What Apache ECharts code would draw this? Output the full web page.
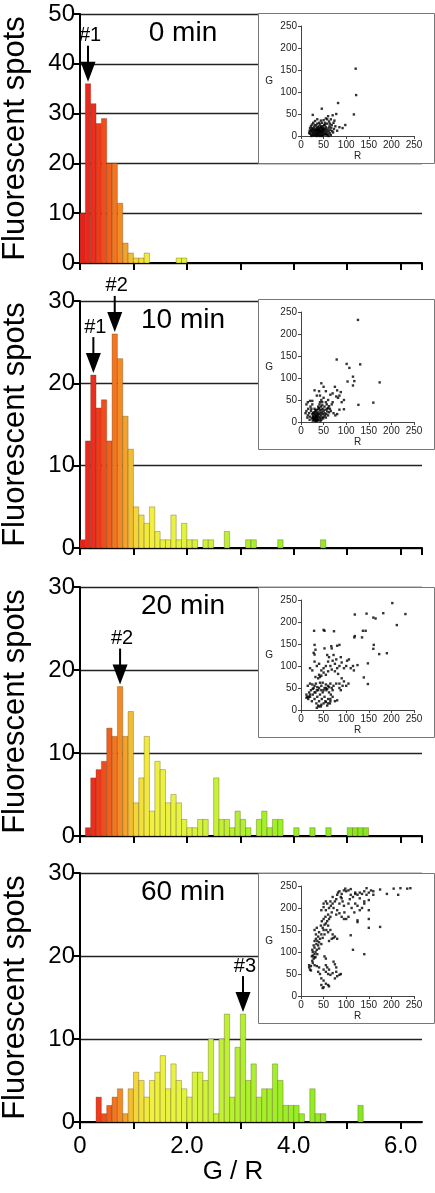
<!DOCTYPE html>
<html><head><meta charset="utf-8">
<script src="https://cdn.jsdelivr.net/npm/echarts/dist/echarts.min.js"></script>
<style>html,body{margin:0;padding:0;background:#fff}#c{width:435px;height:1193px}</style>
</head><body><div id="c"></div><script>
// ---------------- data ----------------
const binWidth = 0.1;                 // histogram bin width in G/R
const panelTitles = ['0 min', '10 min', '20 min', '60 min'];
const yMaxes = [50, 30, 30, 30];
const yAxisTitle = 'Fluorescent spots';
const xAxisTitle = 'G / R';
const xTickLabels = {0: '0', 2: '2.0', 4: '4.0', 6: '6.0'};

// counts per bin, bin i covers [i*0.1, (i+1)*0.1)
const counts0 = [10,36,32,28,29,20,20,12,4,2,1,1,2,0,0,0,0,0,1,1];
const counts10 = [1,13,21,17,18,13,26,23,16,12,5,4,3,5,2,1,1,4,1,3,1,1,0,1,1,0,0,2,0,0,0,1,1,0,0,0,0,1,0,0,0,0,0,0,0,1];
const counts20 = [0,1,7,8,9,13,12,18,12,15,4,7,12,3,9,8,4,5,4,2,1,1,2,2,0,7,2,2,1,3,2,1,0,2,3,1,2,2,0,0,1,0,0,1,0,0,1,0,0,0,1,1,1,1];
const counts60 = [0,0,0,3,1,2,3,4,1,4,6,5,3,5,6,8,4,7,5,4,3,6,6,5,10,1,10,13,3,9,13,5,7,3,4,4,7,5,2,2,2,1,0,4,1,1,0,0,0,0,0,0,2];

// peak markers: panel, bin start, bin count, label
const peakPanel = [0, 1, 1, 2, 3];
const peakBin = [0.1, 0.2, 0.6, 0.7, 3.0];
const peakCount = [36, 21, 26, 18, 13];
const peakLabel = ['#1', '#1', '#2', '#2', '#3'];

// inset scatter R,G values
const scatter0 = [[121,153],[122,93],[117,49],[82,75],[46,62],[26,48],[78,50],[98,25],[92,18],[70,47],[60,45],[55,40],[66,38],[72,30],[76,22],[68,25],[62,33],[80,12],[85,20],
[20,5],[21,10],[22,14],[23,3],[24,8],[25,12],[25,18],[26,2],[27,6],[28,10],[28,15],[29,20],[30,4],[30,8],[31,12],[32,1],[32,16],[33,6],[33,24],[34,10],[34,3],[35,14],[35,19],[36,7],[36,28],[37,2],[37,11],[38,16],[38,5],[39,9],[39,22],[40,13],[40,3],[41,18],[41,7],[42,11],[42,26],[43,1],[43,15],[44,8],[44,20],[45,4],[45,12],[46,17],[46,30],[47,9],[47,2],[48,14],[48,22],[49,6],[50,11],[50,18],[51,3],[52,15],[52,8],[53,25],[54,12],[55,5],[55,20],[56,16],[57,9],[58,28],[59,13],[60,4],[61,18],[62,10],[63,22],[64,6],[65,14],[66,2],[67,19],[69,11],[71,8],[73,16],[74,35],[22,22],[19,12],[18,7],[24,26],[27,30],[31,34],[36,38],[40,30],[44,35],[50,36],[53,30],[58,38],[20,18],[23,0],[29,1],[35,0],[41,0],[47,0],[26,15],[30,25],[33,13],[37,19],[39,14],[43,10],[45,22],[49,16],[51,25],[54,4],[57,2],[61,0],[64,28]];
const scatter10 = [[126,232],[79,142],[101,132],[107,123],[131,131],[174,90],[160,44],[127,39],[115,103],[118,93],[115,83],[103,92],[95,29],[95,50],[90,45],[85,60],[80,72],[75,80],[78,58],[82,55],[88,68],[70,65],[65,62],[60,50],[55,70],[50,80],[45,88],[40,70],[35,60],[30,72],[25,48],[20,48],[15,45],[12,40],[70,45],[68,40],[62,36],[58,30],[66,25],[72,20],[76,15],[80,18],[85,28],[60,15],[55,45],[50,55],[45,50],[42,60],
[15,15],[18,20],[20,12],[22,25],[24,8],[25,18],[26,3],[27,14],[28,22],[29,7],[30,10],[30,30],[31,2],[32,16],[33,5],[33,25],[34,12],[35,20],[35,8],[36,3],[36,28],[37,15],[38,10],[38,22],[39,5],[40,18],[40,32],[41,12],[42,26],[42,8],[43,20],[44,15],[44,35],[45,28],[46,10],[46,22],[47,38],[48,18],[48,30],[50,25],[50,12],[52,35],[52,20],[54,28],[56,18],[57,40],[58,24],[60,32],[62,22],[64,30],[10,20],[12,25],[14,10],[16,30],[19,5],[21,35],[23,30],[25,40],[28,5],[32,8],[34,2],[37,4],[39,30],[41,40],[43,2],[45,5],[49,8],[53,15],[55,10],[28,12],[30,18],[31,22],[32,27],[33,14],[29,9],[35,12],[36,17],[34,6],[31,5],[27,20],[26,10],[38,35],[42,45],[47,45]];
const scatter20 = [[202,243],[231,218],[212,193],[182,220],[160,210],[165,208],[145,219],[119,217],[118,165],[119,168],[137,180],[143,180],[135,165],[161,148],[160,139],[173,127],[190,129],[139,74],[148,59],[148,106],[125,102],[117,90],[106,115],[29,180],[50,182],[52,180],[73,179],[85,148],[80,146],[68,140],[67,145],[52,140],[30,148],[28,130],[30,126],[32,137],
[30,110],[35,100],[40,105],[45,90],[50,95],[55,100],[60,110],[65,100],[70,112],[75,105],[80,95],[85,100],[90,108],[95,95],[100,100],[102,112],[110,95],[115,100],[62,120],[58,125],[72,125],[78,115],[88,120],[40,80],[45,78],[50,85],[55,80],[42,75],[38,72],[25,90],[20,95],[32,75],[60,88],[68,92],[75,88],[82,82],[90,72],[95,65],[100,55],[105,60],[92,55],[85,50],[88,45],[78,60],[72,55],[65,60],[60,55],[55,50],[50,45],[45,55],[40,50],[35,45],[30,55],[25,58],[20,60],[15,55],[12,35],[14,30],[16,25],[18,40],[20,30],[22,45],[24,20],[26,35],[28,50],[30,25],[32,40],[34,15],[36,30],[38,10],[40,20],[42,35],[44,8],[46,25],[48,40],[50,15],[52,30],[54,20],[56,45],[58,10],[60,25],[62,40],[64,15],[66,35],[68,50],[70,45],[75,20],[80,22],[85,60],[38,45],[45,45],[52,50],[58,48],[62,52],[33,60],[26,48],[48,62],[55,58],[42,62],[36,52],[30,40],[20,35],[17,30],[12,28],[65,25],[70,30],[35,5],[40,8],[45,12],[55,18],[60,15],[65,20]];
const scatter60 = [[20,60],[18,70],[22,68],[25,80],[24,90],[28,85],[30,95],[26,75],[32,100],[30,110],[35,105],[34,118],[38,115],[36,125],[40,122],[38,135],[42,130],[33,140],[30,150],[35,155],[40,145],[45,140],[44,160],[48,155],[50,150],[52,162],[46,170],[50,175],[55,165],[54,180],[58,170],[60,160],[62,175],[60,185],[65,180],[68,190],[55,195],[62,200],[66,205],[70,210],[58,210],[50,202],[55,215],[65,215],[72,200],[75,215],[78,220],[80,230],[82,235],[85,238],[88,225],[90,232],[95,240],[98,244],[100,238],[92,215],[85,210],[80,195],[78,185],[85,188],[90,180],[95,175],[100,175],[96,190],[105,210],[108,220],[110,230],[115,225],[120,232],[125,230],[130,235],[135,232],[140,238],[145,245],[150,235],[155,240],[160,238],[175,242],[190,232],[205,244],[215,230],[220,245],[235,244],[242,245],[160,230],[150,218],[135,200],[130,195],[125,205],[120,210],[150,195],[125,168],[125,172],[150,175],[110,138],[115,105],[140,95],[175,157],[150,155],[70,140],[72,132],[68,130],[80,130],[75,135],[65,150],[60,145],[56,150],[52,140],[48,132],[62,125],[45,118],[40,108],[36,95],[30,88],[26,92],[22,58],[18,65],[30,70],[35,68],[40,65],[38,55],[42,50],[45,40],[50,35],[55,28],[60,25],[62,22],[45,25],[50,20],[48,18],[55,55],[60,50],[65,48],[70,52],[75,40],[78,55],[80,45],[85,48],[50,60],[55,70],[58,65],[62,60],[72,78],[75,72],[78,65],[88,50],[52,90],[55,85],[30,125],[28,115],[25,105],[33,130],[26,100],[32,88],[45,195],[50,210],[70,225],[90,222],[95,205],[105,180],[112,200],[118,190],[130,222],[140,215],[145,230],[105,240],[110,243],[120,235],[140,210]];

const allCounts = [counts0, counts10, counts20, counts60];
const allScatter = [scatter0, scatter10, scatter20, scatter60];

// ---------------- styling / layout ----------------
const FONT = 'Liberation Sans, Arial, Helvetica, sans-serif';
const histLeft = 80, histWidth = 342;
const histTops = [14, 301, 587, 873];
const histHeights = [249, 247, 249, 249];
const boxTops = [13, 299, 587, 873];
const boxLeft = 258, boxWidth = 176, boxHeight = 150;

const colorStops = [[0,[228,30,28]],[0.3,[238,48,32]],[0.55,[242,96,30]],[0.75,[242,138,38]],[0.9,[242,176,48]],[1.05,[242,214,58]],[1.3,[242,238,64]],[1.8,[230,244,64]],[2.4,[205,242,58]],[3.0,[176,240,48]],[4.0,[152,238,40]],[5.5,[132,228,36]]];
function colorAt(v){
  if (v <= colorStops[0][0]) return 'rgb(' + colorStops[0][1].join(',') + ')';
  for (let i = 1; i < colorStops.length; i++) {
    if (v <= colorStops[i][0]) {
      const a = colorStops[i-1], b = colorStops[i];
      const t = (v - a[0]) / (b[0] - a[0]);
      const c = a[1].map((x, k) => Math.round(x + (b[1][k] - x) * t));
      return 'rgb(' + c.join(',') + ')';
    }
  }
  return 'rgb(' + colorStops[colorStops.length-1][1].join(',') + ')';
}

const grids = [], xAxes = [], yAxes = [], series = [];
for (let p = 0; p < 4; p++) {
  grids.push({left: histLeft, top: histTops[p], width: histWidth, height: histHeights[p], containLabel: false, outerBoundsMode: 'none'});
  xAxes.push({
    type: 'value', gridIndex: p, min: 0, max: 6.4, interval: 1,
    axisLine: {show: true, onZero: false, lineStyle: {color: '#000', width: 2}},
    axisTick: {show: true, length: 7, lineStyle: {color: '#000', width: 2}},
    axisLabel: {show: p === 3, fontFamily: FONT, fontSize: 24, color: '#000', margin: 12,
      showMaxLabel: false, hideOverlap: false,
      formatter: v => (xTickLabels[v] !== undefined ? xTickLabels[v] : '')},
    splitLine: {show: false}
  });
  yAxes.push({
    type: 'value', gridIndex: p, min: 0, max: yMaxes[p], interval: 10,
    axisLine: {show: true, onZero: false, lineStyle: {color: '#000', width: 2}},
    axisTick: {show: true, length: 7, lineStyle: {color: '#000', width: 2}},
    axisLabel: {fontFamily: FONT, fontSize: 24, color: '#000', margin: 5, hideOverlap: false},
    splitLine: {show: true, lineStyle: {color: '#222', width: 1.3}}
  });
  const data = [];
  allCounts[p].forEach((c, i) => { if (c > 0) data.push([Math.round(i * binWidth * 10) / 10, c]); });
  series.push({
    type: 'custom', xAxisIndex: p, yAxisIndex: p, z: 2,
    data: data,
    renderItem: (params, api) => {
      const x0 = api.value(0), cnt = api.value(1);
      const a = api.coord([x0, cnt]);
      const b = api.coord([x0 + binWidth, 0]);
      return {type: 'rect', shape: {x: a[0], y: a[1], width: b[0] - a[0], height: b[1] - a[1]},
        style: {fill: colorAt(x0 + binWidth / 2), stroke: 'rgba(90,60,10,0.55)', lineWidth: 0.6}};
    }
  });
}
// insets
for (let p = 0; p < 4; p++) {
  const gi = 4 + p;
  grids.push({left: 301, top: boxTops[p] + 13, width: 113, height: 110, containLabel: false, outerBoundsMode: 'none'});
  xAxes.push({
    type: 'value', gridIndex: gi, min: 0, max: 250, interval: 50, z: 10,
    name: 'R', nameLocation: 'middle', nameGap: 14,
    nameTextStyle: {fontFamily: FONT, fontSize: 10, color: '#222'},
    axisLine: {show: true, onZero: false, lineStyle: {color: '#444', width: 1}},
    axisTick: {show: true, length: 3, lineStyle: {color: '#444'}},
    axisLabel: {fontFamily: FONT, fontSize: 10, color: '#222', margin: 4, hideOverlap: false},
    splitLine: {show: false}
  });
  yAxes.push({
    type: 'value', gridIndex: gi, min: 0, max: 250, interval: 50, z: 10,
    name: 'G', nameLocation: 'middle', nameGap: 28, nameRotate: 0,
    nameTextStyle: {fontFamily: FONT, fontSize: 10, color: '#222'},
    axisLine: {show: true, onZero: false, lineStyle: {color: '#444', width: 1}},
    axisTick: {show: true, length: 3, lineStyle: {color: '#444'}},
    axisLabel: {fontFamily: FONT, fontSize: 10, color: '#222', margin: 4, hideOverlap: false},
    splitLine: {show: false}
  });
  series.push({
    type: 'scatter', xAxisIndex: gi, yAxisIndex: gi, z: 11,
    symbol: 'rect', symbolSize: 2.4, itemStyle: {color: '#000'},
    data: allScatter[p], silent: true
  });
}

const chart = echarts.init(document.getElementById('c'), null, {renderer: 'canvas'});
chart.setOption({
  animation: false, backgroundColor: '#fff',
  grid: grids, xAxis: xAxes, yAxis: yAxes, series: series
});

const gfx = [];
for (let p = 0; p < 4; p++) {
  gfx.push({type: 'rect', z: 5, shape: {x: boxLeft + 0.5, y: boxTops[p] + 0.5, width: boxWidth, height: boxHeight},
    style: {fill: '#fff', stroke: '#777', lineWidth: 1}});
  gfx.push({type: 'text', z: 20, x: 183, y: histTops[p] + 19,
    style: {text: panelTitles[p], font: '28px ' + FONT, fill: '#000', textAlign: 'center', textVerticalAlign: 'middle'}});
  gfx.push({type: 'text', z: 20, x: 15, y: histTops[p] + histHeights[p] / 2, rotation: Math.PI / 2,
    style: {text: yAxisTitle, font: '31px ' + FONT, fill: '#000', textAlign: 'center', textVerticalAlign: 'middle'}});
}
gfx.push({type: 'text', z: 20, x: 233, y: 1172,
  style: {text: xAxisTitle, font: '26px ' + FONT, fill: '#000', textAlign: 'center', textVerticalAlign: 'middle'}});
for (let k = 0; k < peakPanel.length; k++) {
  const pt = chart.convertToPixel({xAxisIndex: peakPanel[k], yAxisIndex: peakPanel[k]}, [peakBin[k] + binWidth / 2, peakCount[k]]);
  const x = pt[0], tip = pt[1] - 2;
  gfx.push({type: 'line', z: 20, shape: {x1: x, y1: tip - 36, x2: x, y2: tip - 16}, style: {stroke: '#000', lineWidth: 2}});
  gfx.push({type: 'polygon', z: 20, shape: {points: [[x - 7.5, tip - 20], [x + 7.5, tip - 20], [x, tip]]}, style: {fill: '#000'}});
  gfx.push({type: 'text', z: 20, x: x + 2, y: tip - 46,
    style: {text: peakLabel[k], font: '20px ' + FONT, fill: '#000', textAlign: 'center', textVerticalAlign: 'middle'}});
}
chart.setOption({graphic: {elements: gfx}});
</script></body></html>
